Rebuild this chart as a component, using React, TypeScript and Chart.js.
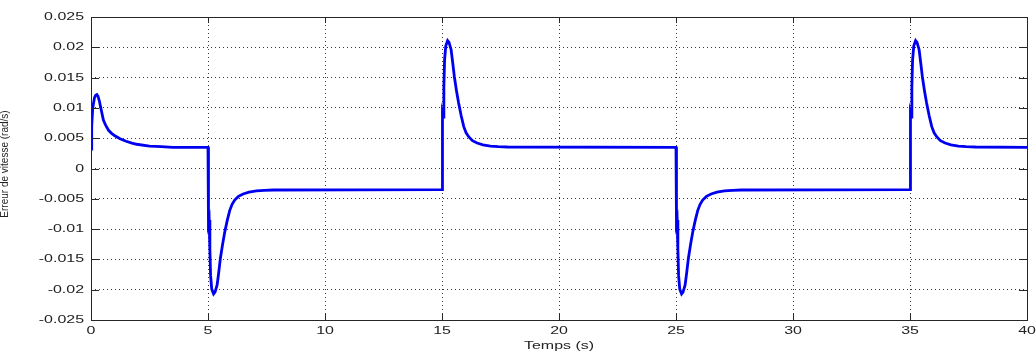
import React, { useEffect, useRef } from "react";
import { Chart, registerables } from "chart.js";

Chart.register(...registerables);

// Time (s) and speed error (rad/s)
const timeS: number[] = [
  0, 0.02, 0.04, 0.07, 0.1, 0.15, 0.2, 0.25, 0.3, 0.36, 0.44, 0.53, 0.63, 0.75, 0.88, 1.02, 1.24, 1.5, 1.75, 1.95, 2.5, 3.0, 3.5, 4.99,
  5.0, 5.01, 5.02, 5.03, 5.05, 5.08, 5.11, 5.16, 5.24, 5.3, 5.39, 5.46, 5.53, 5.62, 5.71, 5.82, 5.93, 6.03, 6.14, 6.3, 6.5, 6.75, 7.07, 7.4, 7.8, 14.99,
  15.0, 15.01, 15.02, 15.03, 15.05, 15.08, 15.11, 15.16, 15.24, 15.3, 15.39, 15.46, 15.53, 15.62, 15.71, 15.82, 15.93, 16.03, 16.14, 16.3, 16.5, 16.75, 17.07, 17.4, 17.8, 24.99,
  25.0, 25.01, 25.02, 25.03, 25.05, 25.08, 25.11, 25.16, 25.24, 25.3, 25.39, 25.46, 25.53, 25.62, 25.71, 25.82, 25.93, 26.03, 26.14, 26.3, 26.5, 26.75, 27.07, 27.4, 27.8, 34.99,
  35.0, 35.01, 35.02, 35.03, 35.05, 35.08, 35.11, 35.16, 35.24, 35.3, 35.39, 35.46, 35.53, 35.62, 35.71, 35.82, 35.93, 36.03, 36.14, 36.3, 36.5, 36.75, 37.07, 37.4, 37.8, 40.0,
];

const errRad: number[] = [
  0.0032, 0.0075, 0.007, 0.0098, 0.0106, 0.0117, 0.0121, 0.0122, 0.0119, 0.0111, 0.0096, 0.008, 0.0071, 0.0063, 0.0058, 0.0054, 0.0049, 0.0045, 0.0042, 0.004, 0.0037, 0.0036, 0.0035, 0.0035,
  0.0035, -0.004, -0.003, -0.009, -0.0085, -0.0133, -0.0176, -0.0199, -0.0207, -0.0204, -0.0192, -0.0171, -0.0148, -0.0126, -0.0106, -0.0086, -0.0069, -0.0059, -0.0052, -0.0046, -0.0042, -0.0039, -0.0037, -0.0036, -0.00355, -0.0035,
  -0.0035, 0.004, 0.003, 0.009, 0.0085, 0.0135, 0.0179, 0.0202, 0.0211, 0.0208, 0.0196, 0.0174, 0.0151, 0.0128, 0.0108, 0.0087, 0.0069, 0.0059, 0.00525, 0.0046, 0.0042, 0.0039, 0.0037, 0.0036, 0.00355, 0.0035,
  0.0035, -0.004, -0.003, -0.009, -0.0085, -0.0133, -0.0176, -0.0199, -0.0207, -0.0204, -0.0192, -0.0171, -0.0148, -0.0126, -0.0106, -0.0086, -0.0069, -0.0059, -0.0052, -0.0046, -0.0042, -0.0039, -0.0037, -0.0036, -0.00355, -0.0035,
  -0.0035, 0.004, 0.003, 0.009, 0.0085, 0.0135, 0.0179, 0.0202, 0.0211, 0.0208, 0.0196, 0.0174, 0.0151, 0.0128, 0.0108, 0.0087, 0.0069, 0.0059, 0.00525, 0.0046, 0.0042, 0.0039, 0.0037, 0.0036, 0.00355, 0.0035,
];

const xTickLabels: string[] = ["0", "5", "10", "15", "20", "25", "30", "35", "40"];
const yTickLabels: string[] = ["0.025", "0.02", "0.015", "0.01", "0.005", "0", "-0.005", "-0.01", "-0.015", "-0.02", "-0.025"];
const xTitle = "Temps (s)";
const yTitle = "Erreur de vitesse (rad/s)";

const FONT = "Liberation Sans, Arial, sans-serif";
const STRETCH = 1.45;

const matlabAxes = {
  id: "matlabAxes",
  afterDraw(chart: any) {
    const ctx = chart.ctx as CanvasRenderingContext2D;
    const { left, right, top, bottom } = chart.chartArea;
    const xs = chart.scales.x;
    const ys = chart.scales.y;
    ctx.save();
    // box
    ctx.strokeStyle = "#262626";
    ctx.lineWidth = 1;
    ctx.strokeRect(Math.round(left) + 0.5, Math.round(top) + 0.5, Math.round(right - left), Math.round(bottom - top));
    // inward ticks
    ctx.beginPath();
    xs.ticks.forEach((t: any) => {
      const px = Math.round(xs.getPixelForValue(t.value)) + 0.5;
      ctx.moveTo(px, bottom);
      ctx.lineTo(px, bottom - 6);
      ctx.moveTo(px, top);
      ctx.lineTo(px, top + 6);
    });
    ys.ticks.forEach((t: any) => {
      const py = Math.round(ys.getPixelForValue(t.value)) + 0.5;
      ctx.moveTo(left, py);
      ctx.lineTo(left + 8, py);
      ctx.moveTo(right, py);
      ctx.lineTo(right - 8, py);
    });
    ctx.stroke();

    // tick labels (horizontally stretched, as in the reference)
    ctx.fillStyle = "#222";
    ctx.font = `11px ${FONT}`;
    ctx.textBaseline = "middle";
    ctx.textAlign = "right";
    ys.ticks.forEach((t: any, i: number) => {
      const py = ys.getPixelForValue(t.value);
      const label = yTickLabels[yTickLabels.length - 1 - i] ?? String(t.value);
      ctx.save();
      ctx.translate(84, py);
      ctx.scale(STRETCH, 1);
      ctx.fillText(label, 0, 0);
      ctx.restore();
    });
    ctx.textBaseline = "top";
    ctx.textAlign = "center";
    xs.ticks.forEach((t: any, i: number) => {
      const px = xs.getPixelForValue(t.value);
      const label = xTickLabels[i] ?? String(t.value);
      ctx.save();
      ctx.translate(px, bottom + 5);
      ctx.scale(STRETCH, 1);
      ctx.fillText(label, 0, 0);
      ctx.restore();
    });
    // x title
    ctx.save();
    ctx.translate((left + right) / 2, bottom + 20);
    ctx.scale(STRETCH, 1);
    ctx.fillText(xTitle, 0, 0);
    ctx.restore();
    // y title
    ctx.save();
    ctx.font = `10px ${FONT}`;
    ctx.translate(5, 164);
    ctx.rotate(-Math.PI / 2);
    ctx.textBaseline = "middle";
    ctx.textAlign = "center";
    ctx.fillText(yTitle, 0, 0);
    ctx.restore();
    ctx.restore();
  },
};

export default function App() {
  const ref = useRef<HTMLCanvasElement | null>(null);
  useEffect(() => {
    if (!ref.current) return;
    const points = timeS.map((t, i) => ({ x: t, y: errRad[i] }));
    const chart = new Chart(ref.current, {
      type: "line",
      data: {
        datasets: [
          {
            data: points,
            borderColor: "#0000f0",
            borderWidth: 2.8,
            pointRadius: 0,
            tension: 0,
            fill: false,
          },
        ],
      },
      options: {
        animation: false,
        responsive: false,
        maintainAspectRatio: false,
        events: [],
        layout: { padding: { left: 0, right: 9, top: 17, bottom: 0 } },
        plugins: { legend: { display: false }, tooltip: { enabled: false } },
        scales: {
          x: {
            type: "linear",
            min: 0,
            max: 40,
            ticks: { display: false, stepSize: 5 },
            grid: { color: "#3a3a3a", lineWidth: 1, drawTicks: false },
            border: { display: false, dash: [1, 3] },
            afterFit: (s: any) => {
              s.height = 32;
            },
          },
          y: {
            type: "linear",
            min: -0.025,
            max: 0.025,
            ticks: { display: false, stepSize: 0.005 },
            grid: { color: "#3a3a3a", lineWidth: 1, drawTicks: false },
            border: { display: false, dash: [1, 3] },
            afterFit: (s: any) => {
              s.width = 91;
            },
          },
        },
      } as any,
      plugins: [matlabAxes],
    });
    return () => chart.destroy();
  }, []);
  return (
    <div style={{ position: "absolute", left: 0, top: 0, width: 1036, height: 352, background: "#fff" }}>
      <canvas ref={ref} width={1036} height={352} style={{ width: 1036, height: 352, display: "block" }} />
    </div>
  );
}
